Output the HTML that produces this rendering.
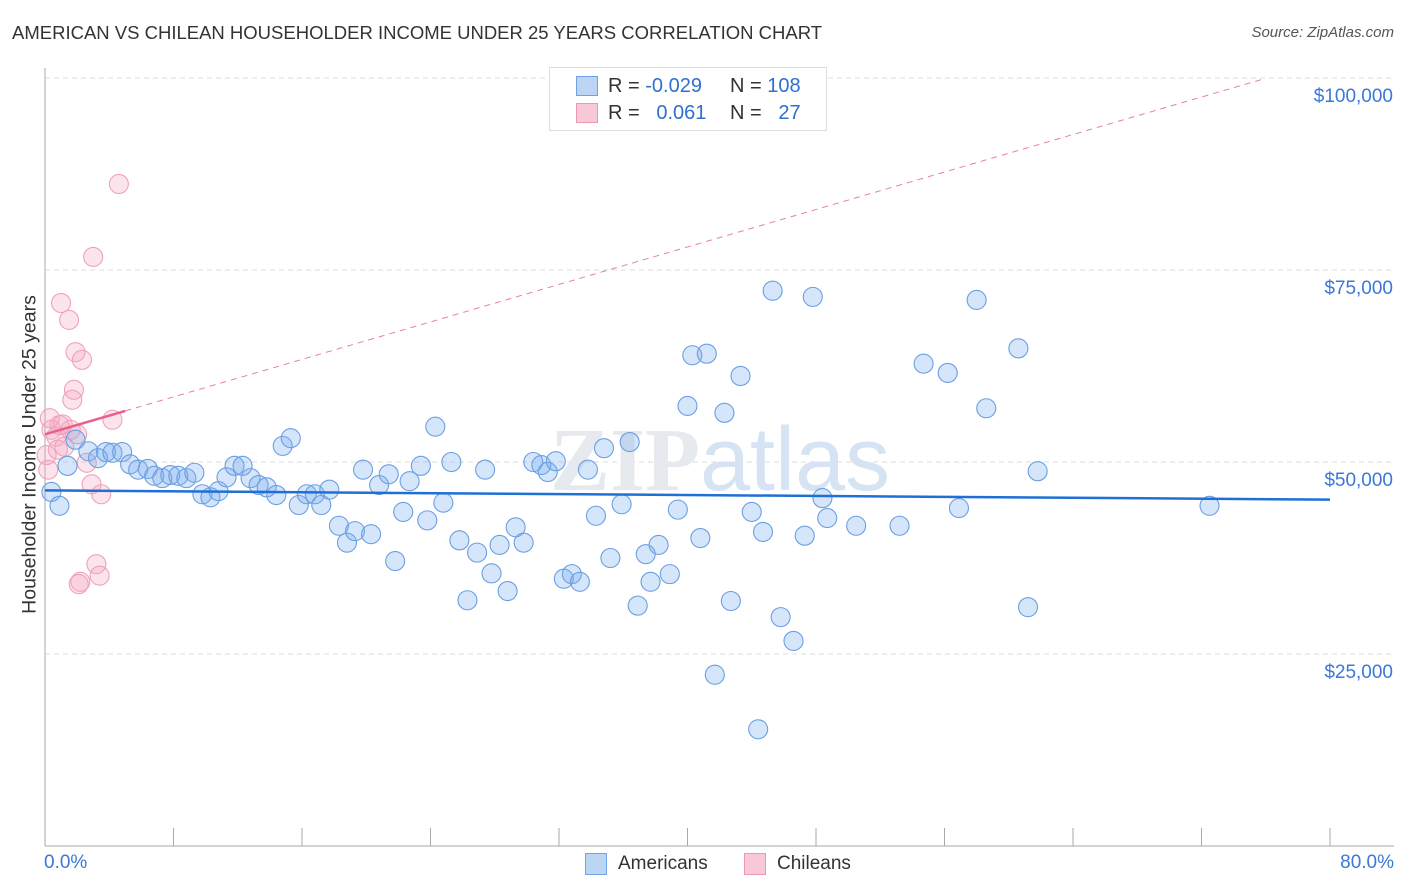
<!DOCTYPE html>
<html><head><meta charset="utf-8"><style>
body{margin:0;background:#fff;font-family:"Liberation Sans",sans-serif;}
#wrap{position:relative;width:1406px;height:892px;overflow:hidden;}
.t{position:absolute;white-space:nowrap;}
</style></head><body>
<div id="wrap">
<div class="t" style="left:12px;top:22px;font-size:18.5px;color:#333;">AMERICAN VS CHILEAN HOUSEHOLDER INCOME UNDER 25 YEARS CORRELATION CHART</div>
<div class="t" style="right:12px;top:24px;font-size:15px;color:#555;font-style:italic;">Source: ZipAtlas.com</div>
<svg id="svg" width="1406" height="892" style="position:absolute;left:0;top:0"></svg>
</div>
<script>
const xTicksPct=[0,8,16,24,32,40,48,56,64,72,80];
const yTicks=[25000,50000,75000,100000];
const yTickLabels=["$25,000","$50,000","$75,000","$100,000"];
const amX=[0.4,0.9,1.4,1.9,2.7,3.3,3.8,4.2,4.8,5.3,5.8,6.4,6.8,7.3,7.8,8.3,8.8,9.3,9.8,10.3,10.8,11.3,11.8,12.3,12.8,13.3,13.8,14.4,14.8,15.3,15.8,16.3,16.8,17.2,17.7,18.3,18.8,19.3,19.8,20.3,20.8,21.4,21.8,22.3,22.7,23.4,23.8,24.3,24.8,25.3,25.8,26.3,26.9,27.4,27.8,28.3,28.8,29.3,29.8,30.4,30.9,31.3,31.8,32.3,32.8,33.3,33.8,34.3,34.8,35.2,35.9,36.4,36.9,37.4,37.7,38.2,38.9,39.4,40.0,40.3,41.2,40.8,41.7,42.3,42.7,43.3,44.0,44.4,44.7,45.3,45.8,46.6,47.3,47.8,48.4,48.7,50.5,53.2,54.7,56.2,56.9,58.0,58.6,60.6,61.2,61.8,72.5];
const amY=[46.1,44.3,49.5,52.9,51.4,50.5,51.3,51.2,51.3,49.7,49.0,49.1,48.2,47.9,48.3,48.2,47.9,48.6,45.8,45.4,46.2,48.0,49.5,49.5,47.9,47.0,46.7,45.7,52.1,53.1,44.4,45.8,45.8,44.4,46.4,41.7,39.5,41.0,49.0,40.6,47.0,48.4,37.1,43.5,47.5,49.5,42.4,54.6,44.7,50.0,39.8,32.0,38.2,49.0,35.5,39.2,33.2,41.5,39.5,50.0,49.6,48.7,50.1,34.8,35.4,34.4,49.0,43.0,51.8,37.5,44.5,52.6,31.3,38.0,34.4,39.2,35.4,43.8,57.3,63.9,64.1,40.1,22.3,56.4,31.9,61.2,43.5,15.2,40.9,72.3,29.8,26.7,40.4,71.5,45.3,42.7,41.7,41.7,62.8,61.6,44.0,71.1,57.0,64.8,31.1,48.8,44.3];
const chX=[0.3,0.4,0.7,0.8,1.0,1.1,1.2,1.5,1.6,1.7,1.8,1.9,2.0,2.1,2.3,2.2,2.6,2.9,3.0,3.2,3.4,3.5,4.2,4.6,0.2,0.1,0.9];
const chY=[55.7,54.2,53.3,51.6,70.7,54.9,52.0,68.5,54.2,58.1,59.4,64.3,53.6,34.1,63.3,34.4,49.9,47.1,76.7,36.7,35.2,45.8,55.5,86.2,49.0,50.9,54.8];
const amTrend=[46.3,45.1];
const chTrend=[53.6,0.61];
const X0=45,X1=1330,YB=846;
const sx=p=>X0+(p/80)*(X1-X0);
const sy=v=>462-(v-50000)*192/25000;
const svg=document.getElementById('svg');const NS='http://www.w3.org/2000/svg';
function mk(tag,at){const e=document.createElementNS(NS,tag);for(const k in at)e.setAttribute(k,at[k]);svg.appendChild(e);return e;}
yTicks.forEach((v,i)=>{
 const g=mk('line',{x1:X0,x2:1394,y1:sy(v),y2:sy(v),stroke:'#ddd','stroke-dasharray':'5,4'});
 
 
 const t=mk('text',{x:1393,y:sy(v)+24,'text-anchor':'end','font-size':19,fill:'#3b78d8','font-family':'Liberation Sans'});
 t.textContent=yTickLabels[i];
 
 
});
const ax=mk('line',{x1:X0,x2:X0,y1:68,y2:YB,stroke:'#aaa'});


const bx=mk('line',{x1:X0,x2:1394,y1:YB,y2:YB,stroke:'#aaa'});


xTicksPct.forEach(p=>{const l=mk('line',{x1:sx(p),x2:sx(p),y1:828,y2:YB,stroke:'#aaa'});
 
 });
const wm=mk('text',{x:720,y:490,'text-anchor':'middle','font-size':90,fill:'#e6e9ee','font-family':'Liberation Serif','font-weight':'bold'});
wm.innerHTML='ZIP<tspan fill="#d5e3f3" font-family="Liberation Sans" font-weight="normal">atlas</tspan>';


chX.forEach((x,i)=>{const c=mk('circle',{cx:sx(x),cy:sy(chY[i]*1000),r:9.5,fill:'rgba(244,165,192,0.3)',stroke:'#eea3ba','stroke-width':1.1});
 
 });
amX.forEach((x,i)=>{const c=mk('circle',{cx:sx(x),cy:sy(amY[i]*1000),r:9.5,fill:'rgba(120,172,238,0.3)',stroke:'#6a9fe2','stroke-width':1.1});
 
 });
const at=mk('line',{x1:sx(0),y1:sy(amTrend[0]*1000),x2:sx(80),y2:sy(amTrend[1]*1000),stroke:'#1f6fd6','stroke-width':2.5});


const cp=x=>sy((chTrend[0]+chTrend[1]*x)*1000);
const ct=mk('line',{x1:sx(0),y1:cp(0),x2:sx(5),y2:cp(5),stroke:'#e8608a','stroke-width':2.5});


const cd=mk('line',{x1:sx(5),y1:cp(5),x2:sx(76),y2:cp(76),stroke:'#e8809f','stroke-width':1,'stroke-dasharray':'6,5'});


</script>
<div class="t" style="left:44px;top:852px;font-size:19px;color:#3b78d8">0.0%</div>
<div class="t" style="right:12px;top:852px;font-size:19px;color:#3b78d8">80.0%</div>
<div class="t" style="left:-130px;top:443px;width:320px;text-align:center;font-size:19.5px;color:#333;transform:rotate(-90deg);">Householder Income Under 25 years</div>
<div style="position:absolute;left:549px;top:67px;width:276px;height:62px;border:1px solid #ddd;background:#fff;font-size:20px;color:#333">
 <div style="position:absolute;left:26px;top:8px;width:20px;height:18px;background:#bcd5f5;border:1px solid #6fa2e2"></div>
 <div class="t" style="left:58px;top:7px">R = <span style="color:#2f6fd0">-0.029</span></div>
 <div class="t" style="left:180px;top:7px">N = <span style="color:#2f6fd0">108</span></div>
 <div style="position:absolute;left:26px;top:35px;width:20px;height:18px;background:#f8c8d6;border:1px solid #ec9ab4"></div>
 <div class="t" style="left:58px;top:34px">R = <span style="color:#2f6fd0">&nbsp;&nbsp;0.061</span></div>
 <div class="t" style="left:180px;top:34px">N = <span style="color:#2f6fd0">&nbsp;&nbsp;27</span></div>
</div>
<div style="position:absolute;left:585px;top:853px;width:20px;height:20px;background:#bcd5f5;border:1px solid #6fa2e2"></div>
<div class="t" style="left:618px;top:853px;font-size:19px;color:#333">Americans</div>
<div style="position:absolute;left:744px;top:853px;width:20px;height:20px;background:#f8c8d6;border:1px solid #ec9ab4"></div>
<div class="t" style="left:777px;top:853px;font-size:19px;color:#333">Chileans</div>
</body></html>
